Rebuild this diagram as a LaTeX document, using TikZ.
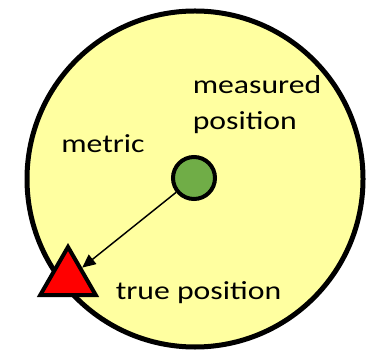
\documentclass[tikz,border=0pt]{standalone}
\usepackage{fontspec}
\setmainfont{Carlito}[FakeStretch=1.22]
\definecolor{padyellow}{HTML}{FFFFA0}
\definecolor{measgreen}{HTML}{70AD47}
\usetikzlibrary{shapes.geometric,arrows.meta}

\begin{document}
\begin{tikzpicture}[x=0.75pt,y=0.75pt,
  label text/.style={font=\fontsize{19.5}{27}\selectfont, inner sep=0pt, anchor=base west},
  meas dot/.style={circle, draw, line width=3pt, fill=measgreen, minimum size=31.5pt, inner sep=0pt},
  true mark/.style={regular polygon, regular polygon sides=3, draw, line width=3pt, fill=red, minimum size=48pt, inner sep=0pt}]
\useasboundingbox (0,0) rectangle (373,349);
% metric region
\draw[line width=3.75pt, fill=padyellow] (195,170) circle[radius=126pt];
\node[meas dot] (meas) at (194,171) {};
\node[true mark] (true) at (68,70) {};
\draw[-{Triangle[length=10pt,width=9pt]}, line width=1.1pt] (meas) -- (true);
% labels
\node[label text, align=left] (measlbl) at (192.5,219) {measured\\position};
\node[label text] (metriclbl) at (61,196) {metric};
\node[label text] (truelbl) at (115.5,49.5) {true position};
\end{tikzpicture}
\end{document}
